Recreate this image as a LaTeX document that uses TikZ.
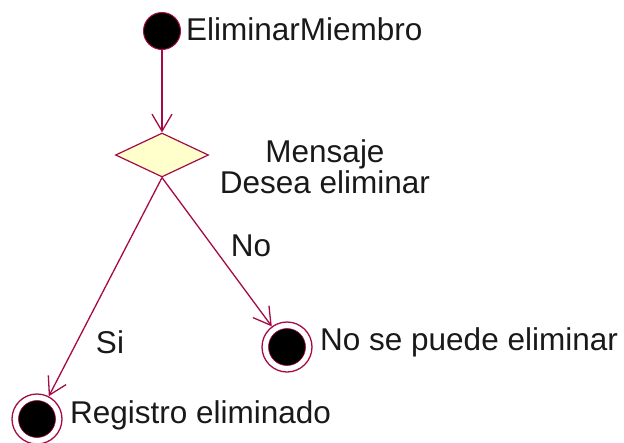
\documentclass[tikz,border=0pt]{standalone}
\usepackage{fontspec}
\setmainfont{Liberation Sans}
\usepackage{xcolor}
\usetikzlibrary{arrows.meta, positioning, shapes.geometric}

\definecolor{umlred}{RGB}{165,10,70}
\definecolor{decfill}{RGB}{255,255,204}

\begin{document}
\begin{tikzpicture}[x=1pt, y=-1pt,
  font=\fontsize{31.5}{28}\selectfont,
  flow/.style={umlred, line width=1.3pt, -{Straight Barb[length=17pt, width=20pt, line width=1.3pt]}},
  initstate/.style={circle, fill=black, draw=umlred, line width=1pt, minimum size=37pt, inner sep=0pt},
  finalstate/.style={circle, draw=umlred, line width=1.3pt, minimum size=50pt, inner sep=0pt,
    path picture={\fill[black, draw=umlred, line width=0.6pt] (path picture bounding box.center) circle (18.5pt);}},
  decision/.style={diamond, fill=decfill, draw=umlred, line width=1.2pt, minimum width=93pt, minimum height=44pt, inner sep=0pt},
  lbl/.style={inner sep=0pt, text=black!90}
]
  \useasboundingbox (0,0) rectangle (624,442);

  % initial state
  \node[initstate] (start) at (162,31) {};
  \node[lbl, anchor=base west] (startlbl) at (186,40) {EliminarMiembro};

  % decision
  \node[decision] (dec) at (162,155) {};
  \node[lbl, align=center, anchor=base] (declbl) at (325,193) {Mensaje\\Desea eliminar};

  % final states
  \node[finalstate] (ok) at (37,419) {};
  \node[lbl, anchor=base west] (oklbl) at (70,423) {Registro eliminado};
  \node[finalstate] (no) at (287,347) {};
  \node[lbl, anchor=base west] (nolbl) at (320,350) {No se puede eliminar};

  % transitions
  \draw[flow] (start) -- (dec);
  \draw[flow] (dec.south) -- (ok);
  \draw[flow] (dec.south) -- (no);
  \node[lbl] (silbl) at (110,342) {Si};
  \node[lbl] (nolabel) at (251,246) {No};
\end{tikzpicture}
\end{document}
